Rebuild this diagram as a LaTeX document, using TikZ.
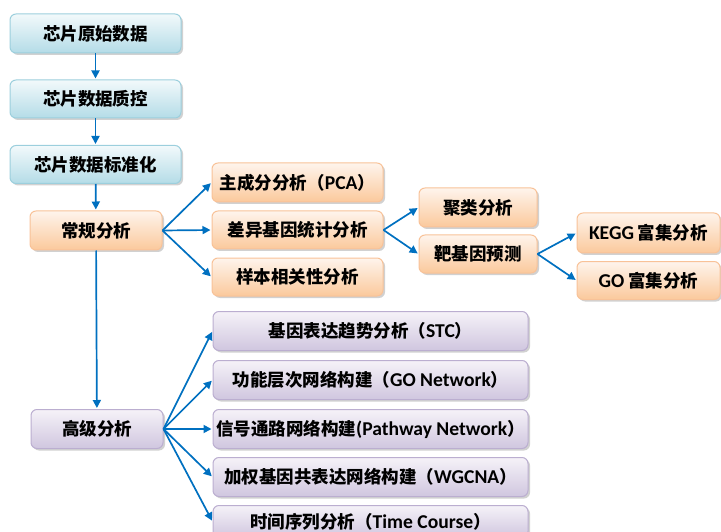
\documentclass[tikz,border=0pt]{standalone}
\usepackage{fontspec}
\setmainfont{Noto Sans CJK SC}
\newfontfamily\latf{Carlito}[Scale=1.12]
\usetikzlibrary{arrows.meta,shadows}
\definecolor{arrowblue}{HTML}{0070C0}
\definecolor{bluetop}{HTML}{F2F9FB}
\definecolor{bluebot}{HTML}{B4DCE7}
\definecolor{blueline}{HTML}{9CCFDD}
\definecolor{orangetop}{HTML}{FEF4EC}
\definecolor{orangebot}{HTML}{FBC99C}
\definecolor{orangeline}{HTML}{F8C298}
\definecolor{purpletop}{HTML}{F5F2F8}
\definecolor{purplebot}{HTML}{D0C6DF}
\definecolor{purpleline}{HTML}{BBAED0}
\tikzset{
  box/.style={draw, line width=1pt, rounded corners=6pt, minimum height=39pt,
    font=\fontsize{17.5}{19}\selectfont\bfseries, inner sep=0pt,
    drop shadow={shadow xshift=2pt, shadow yshift=-2pt, opacity=0.3, fill=black!60}},
  bluebox/.style={box, draw=blueline, top color=bluetop, bottom color=bluebot},
  orangebox/.style={box, draw=orangeline, top color=orangetop, bottom color=orangebot},
  purplebox/.style={box, draw=purpleline, top color=purpletop, bottom color=purplebot},
  conn/.style={draw=arrowblue, line width=1.7pt, -{Triangle[length=8pt,width=8pt]}, shorten >=1pt}
}
\begin{document}
\begin{tikzpicture}[x=1pt,y=-1pt]
\useasboundingbox (0,0) rectangle (721,532);
\clip (0,0) rectangle (721,532);
% left column
\node[bluebox, minimum width=171pt] (b1) at (95.5,33.5) {芯片原始数据};
\node[bluebox, minimum width=171pt, minimum height=38pt] (b2) at (95.5,99) {芯片数据质控};
\node[bluebox, minimum width=171pt, minimum height=38pt] (b3) at (95.5,164.5) {芯片数据标准化};
\node[orangebox, minimum width=132pt] (cg) at (96,230.5) {常规分析};
\node[purplebox, minimum width=132pt] (gj) at (97,429) {高级分析};
% orange middle
\node[orangebox, minimum width=171pt] (pca) at (297.5,182.5) {主成分分析（{\latf\bfseries PCA}）};
\node[orangebox, minimum width=171pt, minimum height=38pt] (cy) at (297.5,230) {差异基因统计分析};
\node[orangebox, minimum width=171pt, minimum height=38pt] (yb) at (297.5,277) {样本相关性分析};
\node[orangebox, minimum width=118pt] (jl) at (478,207.5) {聚类分析};
\node[orangebox, minimum width=118pt, minimum height=38pt] (bj) at (478,254) {靶基因预测};
\node[orangebox, minimum width=143pt, minimum height=40pt] (kegg) at (648.5,233) {{\latf\bfseries KEGG} 富集分析};
\node[orangebox, minimum width=143pt, minimum height=38pt] (go) at (648.5,280.5) {{\latf\bfseries GO} 富集分析};
% purple
\node[purplebox, minimum width=315pt] (p1) at (370.5,331) {基因表达趋势分析（{\latf\bfseries STC}）};
\node[purplebox, minimum width=315pt] (p2) at (370.5,380) {功能层次网络构建（{\latf\bfseries GO Network}）};
\node[purplebox, minimum width=315pt] (p3) at (370.5,429) {信号通路网络构建{\latf\bfseries (Pathway Network}）};
\node[purplebox, minimum width=315pt] (p4) at (370.5,477) {加权基因共表达网络构建（{\latf\bfseries WGCNA}）};
\node[purplebox, minimum width=315pt, minimum height=32pt] (p5) at (370.5,521.5) {时间序列分析（{\latf\bfseries Time Course}）};
% connectors
\draw[conn] (b1) -- (b2);
\draw[conn] (b2) -- (b3);
\draw[conn] (b3) -- (cg);
\draw[conn] (cg) -- (gj);
\foreach \t in {pca,cy,yb} \draw[conn] (cg.east) -- (\t.west);
\foreach \t in {jl,bj} \draw[conn] (cy.east) -- (\t.west);
\foreach \t in {kegg,go} \draw[conn] (bj.east) -- (\t.west);
\foreach \t in {p1,p2,p3,p4,p5} \draw[conn] (gj.east) -- (\t.west);
\end{tikzpicture}
\end{document}
